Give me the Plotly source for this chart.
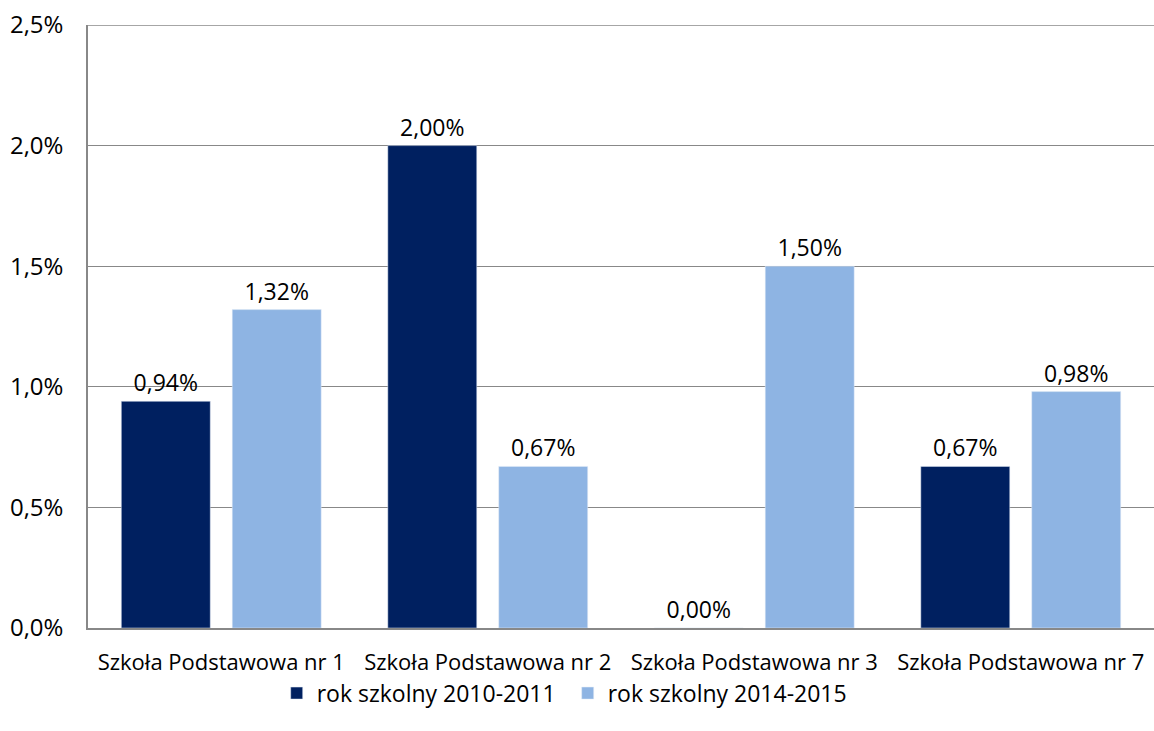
import plotly.graph_objects as go

categories = ["Szkoła Podstawowa nr 1", "Szkoła Podstawowa nr 2", "Szkoła Podstawowa nr 3", "Szkoła Podstawowa nr 7"]
series_names = ["rok szkolny 2010-2011", "rok szkolny 2014-2015"]
values_2010 = [0.94, 2.00, 0.00, 0.67]
values_2014 = [1.32, 0.67, 1.50, 0.98]
y_ticks = [0.0, 0.5, 1.0, 1.5, 2.0, 2.5]

colors = ["#002060", "#8EB4E3"]
FONT = "Open Sans"

fig = go.Figure()
for name, vals, col in zip(series_names, [values_2010, values_2014], colors):
    fig.add_trace(go.Bar(
        x=categories, y=vals, name=name, marker_color=col,
        text=[f"{v:.2f}".replace(".", ",") + "%" for v in vals],
        textposition="outside", cliponaxis=False,
        textfont=dict(family=FONT, size=23, color="#000000"),
    ))

fig.update_layout(
    width=1154, height=731,
    margin=dict(l=88, r=0, t=25, b=103, autoexpand=False),
    plot_bgcolor="white", paper_bgcolor="white",
    barmode="group", bargap=0.1675, bargroupgap=0.198,
    separators=",.",
    font=dict(family=FONT, size=23, color="#000000"),
    legend=dict(orientation="h", x=0.450, xanchor="center", y=-0.108, yanchor="middle",
                font=dict(family=FONT, size=23), itemwidth=30,
                entrywidth=246, entrywidthmode="pixels"),
    showlegend=True,
)
fig.update_xaxes(showline=True, linecolor="#888888", linewidth=1.5, automargin=False,
                 ticks="outside", ticklen=14, tickcolor="rgba(0,0,0,0)",
                 tickfont=dict(family=FONT, size=22))
fig.update_yaxes(range=[0, 2.5], tickvals=y_ticks, automargin=False,
                 ticktext=[f"{t:.1f}".replace(".", ",") + "%" for t in y_ticks],
                 showgrid=True, gridcolor="#888888", gridwidth=1.2,
                 showline=True, linecolor="#888888", linewidth=1.5,
                 zeroline=False, ticks="outside", ticklen=18, tickcolor="rgba(0,0,0,0)",
                 tickfont=dict(family=FONT, size=24))
fig.add_shape(type="line", xref="paper", yref="y", x0=0, x1=1, y0=2.5, y1=2.5,
              line=dict(color="#888888", width=1.5))
fig.write_html("out.html", config={"displayModeBar": False},
               post_script="document.body.style.margin='0';document.body.style.overflow='hidden';")
